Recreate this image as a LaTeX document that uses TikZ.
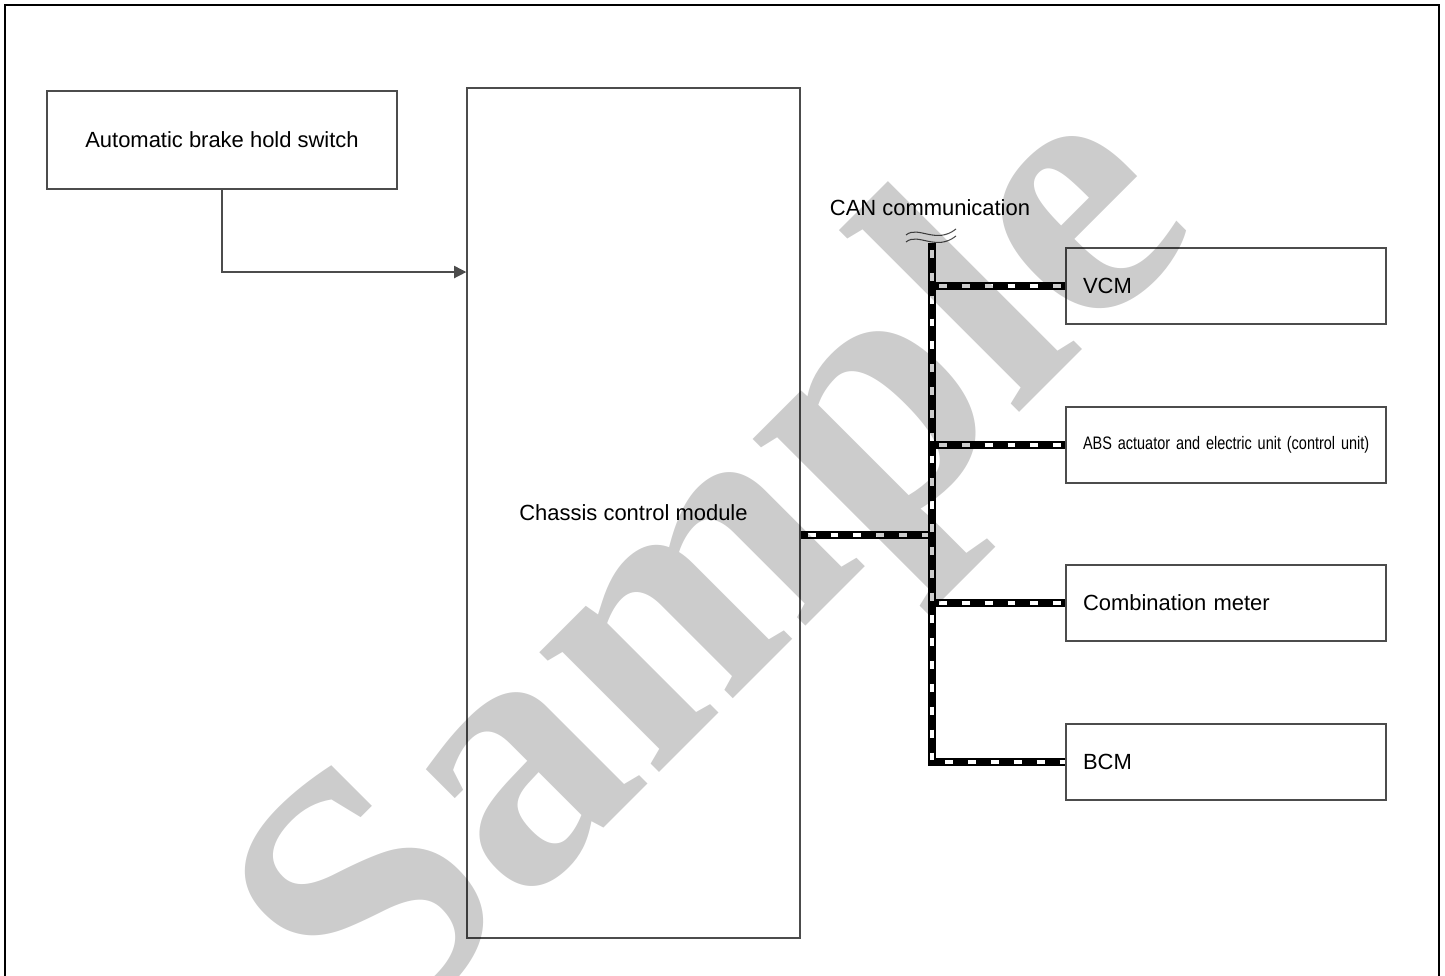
\documentclass[tikz,border=0pt]{standalone}
\usepackage{fontspec}
\setmainfont{Liberation Sans}
\newfontfamily\markfont{Liberation Serif}
\usetikzlibrary{arrows.meta}
\tikzset{
  blk/.style={draw=black!70, line width=0.8pt},
  unit/.style={blk, minimum height=1.52cm, text width=5.72cm, inner xsep=0.34cm, inner ysep=0pt, align=left},
  wire/.style={draw=black!70, line width=0.8pt},
  canbus/.style={line width=4.5pt, black, postaction={draw=white, line width=1.8pt, dash pattern=on 4.5pt off 8.5pt, dash phase=-4pt}}
}
\newcommand{\ecu}[3]{
\node[unit] (#1) at (1226,#2) {#3};}

\begin{document}
\begin{tikzpicture}[x=0.02cm, y=-0.02cm, font=\fontsize{12.5}{15}\selectfont]
\useasboundingbox (0,0) rectangle (1445,976);
\draw[line width=1.5pt] (5,990) -- (5,5) -- (1439,5) -- (1439,990);

\node[blk, minimum width=7cm, minimum height=1.96cm] (sw) at (222,140) {Automatic brake hold switch};
\node[blk, minimum width=6.66cm, minimum height=17cm] (ccm) at (633.5,513) {Chassis control module};

\ecu{vcm}{286}{VCM}
\ecu{abs}{445}{\scalebox{0.8}[1]{\fontsize{10.3}{12}\selectfont ABS actuator and electric unit (control unit)}}
\ecu{meter}{603}{Combination meter}
\ecu{bcm}{762}{BCM}

\draw[wire, -{Triangle[length=7pt,width=7pt]}] (sw.south) |- ([yshift=4.82cm]ccm.west);

\node (can) at (930,208) {CAN communication};
\coordinate (top) at (932,243);
\coordinate (ccmout) at ([yshift=-0.44cm]ccm.east);
\foreach \u in {vcm,abs,meter}{
	\draw[canbus] (\u.west -| top) -- (\u.west);
}
\draw[canbus] (ccmout) -- (ccmout -| top);
\draw[canbus] (top) |- (bcm.west);
\draw[wire, line width=0.6pt] (906,235) .. controls (918,225) and (936,245) .. (956,229);
\draw[wire, line width=0.6pt] (906,242) .. controls (918,232) and (936,252) .. (956,236);

\begin{scope}[blend mode=multiply]
\node[text=black!20, rotate=45, anchor=base, font=\markfont\bfseries\fontsize{210}{210}\selectfont] (mark) at (790,642) {Sample};
\end{scope}
\end{tikzpicture}
\end{document}
